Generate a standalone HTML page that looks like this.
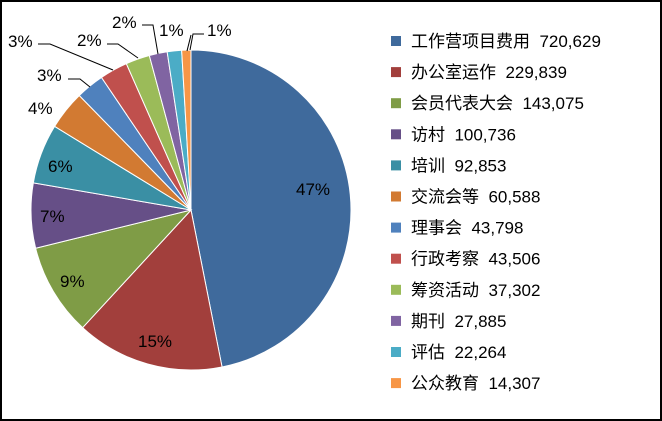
<!DOCTYPE html><html><head><meta charset="utf-8"><style>
body{margin:0;background:#fff}
svg{display:block}
text{font-family:"Liberation Sans","Noto Sans CJK SC",sans-serif;fill:#000}
</style></head><body>
<svg id="s" width="662" height="421" xmlns="http://www.w3.org/2000/svg">
<rect x="1" y="1" width="660" height="419" fill="#fff" stroke="#000" stroke-width="2"/>
<g id="pie"></g>
<g stroke="#000" stroke-width="1" fill="none">
<polyline points="38,44 50,44 113,70"/>
<polyline points="107,44 118,44 138,58"/>
<polyline points="142,25 153,25 158,54"/>
<polyline points="191,35 187,51"/>
<polyline points="204,34 193,34 190,50"/>
<polyline points="68,79 80,79 90,87"/>
</g>
<g font-size="17">
<text x="296" y="195">47%</text>
<text x="138" y="347">15%</text>
<text x="60" y="287">9%</text>
<text x="40" y="222">7%</text>
<text x="48" y="172">6%</text>
<text x="28" y="114">4%</text>
<text x="37" y="81">3%</text>
<text x="8" y="47">3%</text>
<text x="77" y="46">2%</text>
<text x="112" y="28">2%</text>
<text x="159" y="36">1%</text>
<text x="207" y="36">1%</text>
</g>
<g id="leg" font-size="17"></g>
</svg>
<script>
var v=[720629,229839,143075,100736,92853,60588,43798,43506,37302,27885,22264,14307];
var n=["工作营项目费用","办公室运作","会员代表大会","访村","培训","交流会等","理事会","行政考察","筹资活动","期刊","评估","公众教育"];
var c=["#3F6A9C","#A23F3C","#7F9C46","#664F87","#3A8FA4","#D27A32","#4F81BD","#C0504D","#9BBB59","#8064A2","#4BACC6","#F79646"];
var t=v.reduce((a,b)=>a+b,0),cx=191,cy=210,r=160,a=0,p="",l="";
for(var i=0;i<v.length;i++){var b=a+v[i]/t*2*Math.PI;
var x1=cx+r*Math.sin(a),y1=cy-r*Math.cos(a),x2=cx+r*Math.sin(b),y2=cy-r*Math.cos(b);
p+='<path d="M'+cx+','+cy+'L'+x1+','+y1+'A'+r+','+r+' 0 '+((b-a)>Math.PI?1:0)+' 1 '+x2+','+y2+'Z" fill="'+c[i]+'" stroke="#fff" stroke-width="1"/>';a=b;
var y=41+i*31.1;
l+='<rect x="391" y="'+(y-5)+'" width="10" height="10" fill="'+c[i]+'"/><text x="411" y="'+(y+6)+'">'+n[i]+'\u00a0 '+v[i].toLocaleString('en-US')+'</text>';}
document.getElementById('pie').innerHTML=p;document.getElementById('leg').innerHTML=l;
</script>
</body></html>
